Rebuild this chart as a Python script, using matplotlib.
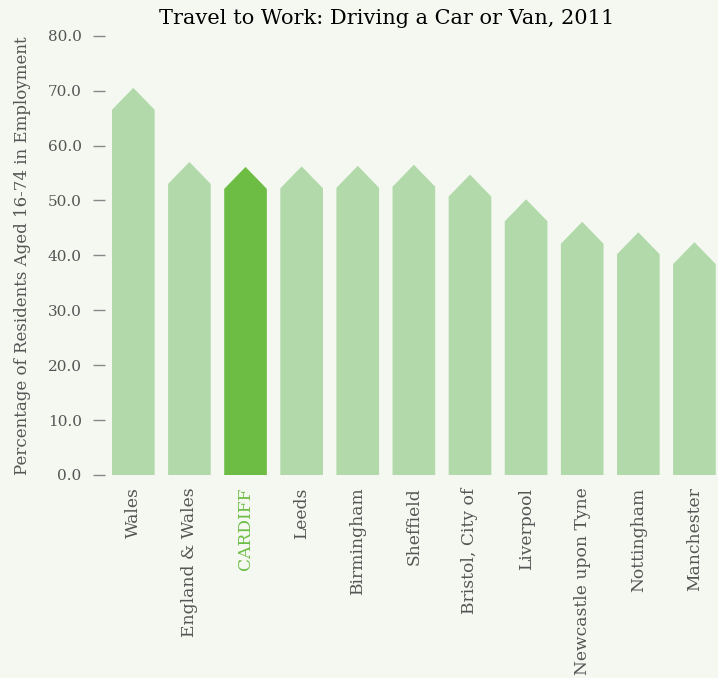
import matplotlib.pyplot as plt

areas = ["Wales", "England & Wales", "CARDIFF", "Leeds", "Birmingham", "Sheffield",
         "Bristol, City of", "Liverpool", "Newcastle upon Tyne", "Nottingham", "Manchester"]
# percentage driving a car or van (top of the bar body)
driving = [66.5, 53.0, 52.1, 52.2, 52.3, 52.5, 50.7, 46.2, 42.1, 40.2, 38.4]
highlight = "CARDIFF"

BG = "#f4f8f1"
LIGHT = "#b1d9aa"
DARK = "#6dbd45"
GREY = "#555555"
HEAD = 4.0  # arrow head height in data units

plt.rcParams['font.family'] = ['DejaVu Serif']

fig = plt.figure(figsize=(7.18, 6.78), dpi=100, facecolor=BG)
ax = fig.add_axes([105.25 / 718, 1 - 475 / 678, 1 - 105.25 / 718, (475 - 35.7) / 678])
ax.set_facecolor(BG)

x = list(range(len(areas)))
colors = [DARK if a == highlight else LIGHT for a in areas]
width = 0.76
# each bar is an upward arrow: body plus pointed head
for xi, v, c in zip(x, driving, colors):
    l, r = xi - width / 2, xi + width / 2
    ax.fill([l, l, xi, r, r], [0, v, v + HEAD, v, 0], color=c,
            edgecolor="none", clip_on=False)

ax.set_xlim(-0.5, 10.42)
ax.set_ylim(0, 80)
ax.set_yticks([0, 10, 20, 30, 40, 50, 60, 70, 80])
ax.set_yticklabels(["%.1f" % t for t in ax.get_yticks()])
ax.tick_params(axis="y", length=9, width=1, color="#888888", labelcolor=GREY,
               labelsize=11, pad=8)
ax.set_xticks(x)
ax.set_xticklabels(areas, rotation=90, va="top", ha="center")
ax.tick_params(axis="x", length=0, labelsize=12.3, labelcolor=GREY, pad=9)
for lbl in ax.get_xticklabels():
    if lbl.get_text() == highlight:
        lbl.set_color(DARK)
for s in ax.spines.values():
    s.set_visible(False)

ax.set_ylabel("Percentage of Residents Aged 16-74 in Employment", color=GREY,
              fontsize=12, labelpad=12)
fig.text(387 / 718, 1 - 18 / 678, "Travel to Work: Driving a Car or Van, 2011",
         ha="center", va="center", fontsize=15, color="black")

fig.savefig("out.png", facecolor=BG)
